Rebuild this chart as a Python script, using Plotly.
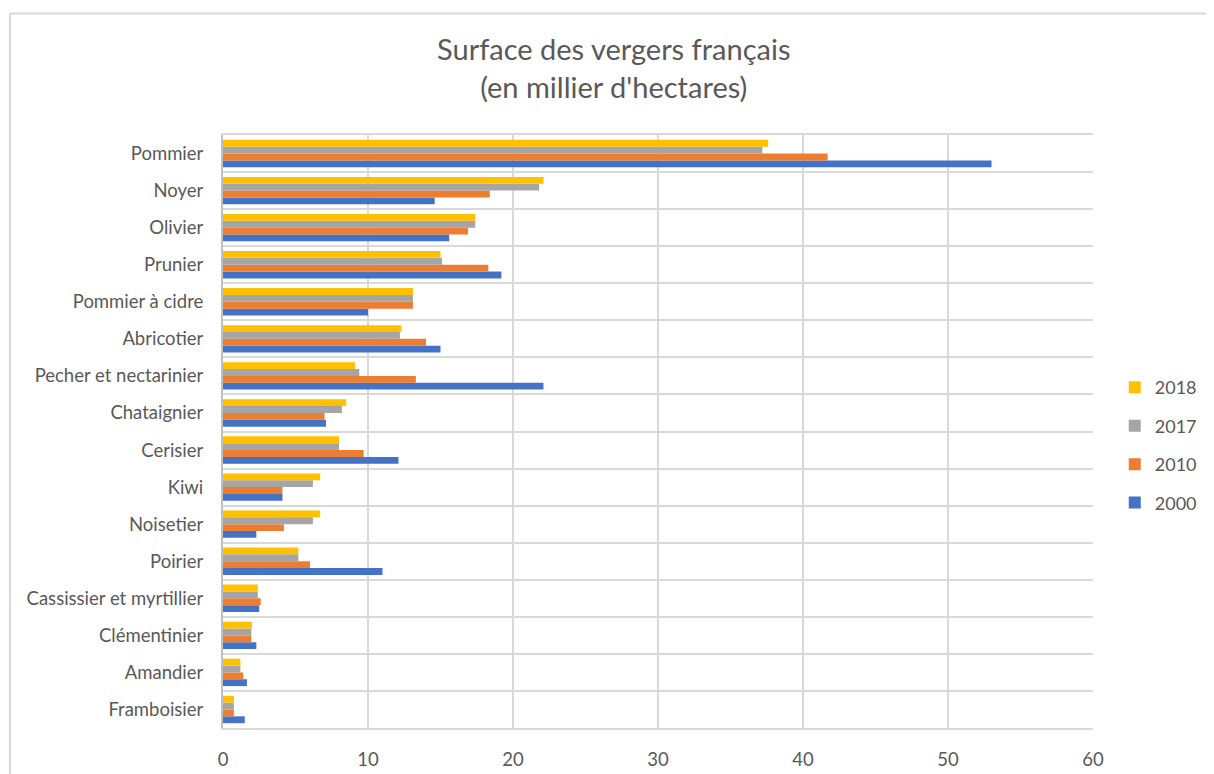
import plotly.graph_objects as go

# Categories listed bottom-to-top (plotly puts the first category at the bottom)
categories = [
    "Framboisier", "Amandier", "Clémentinier", "Cassissier et myrtillier",
    "Poirier", "Noisetier", "Kiwi", "Cerisier", "Chataignier",
    "Pecher et nectarinier", "Abricotier", "Pommier à cidre", "Prunier",
    "Olivier", "Noyer", "Pommier",
]

y2000 = [1.5, 1.65, 2.3, 2.5, 11.0, 2.3, 4.1, 12.1, 7.1, 22.1, 15.0, 10.0, 19.2, 15.6, 14.6, 53.0]
y2010 = [0.75, 1.4, 1.95, 2.6, 6.0, 4.2, 4.1, 9.7, 7.0, 13.3, 14.0, 13.1, 18.3, 16.9, 18.4, 41.7]
y2017 = [0.75, 1.2, 1.95, 2.4, 5.2, 6.2, 6.2, 8.0, 8.2, 9.4, 12.2, 13.1, 15.1, 17.4, 21.8, 37.2]
y2018 = [0.75, 1.2, 2.0, 2.4, 5.2, 6.7, 6.7, 8.0, 8.5, 9.1, 12.3, 13.1, 15.0, 17.4, 22.1, 37.6]

series = [
    ("2000", y2000, "#4472C4"),
    ("2010", y2010, "#ED7D31"),
    ("2017", y2017, "#A5A5A5"),
    ("2018", y2018, "#FFC000"),
]

FONT = "Lato, 'Open Sans', sans-serif"
TEXT = "#595959"
GRID = "#d9d9d9"

fig = go.Figure()
for i, (name, vals, color) in enumerate(series):
    fig.add_trace(go.Bar(
        x=vals, y=categories, name=name, orientation="h",
        marker=dict(color=color, line=dict(width=0)),
        legendgroup=name, legendrank=100 - i,
    ))

# Outer chart border (only left and top edges are visible)
fig.add_shape(type="line", xref="paper", yref="paper",
              x0=-0.2448, x1=-0.2448, y0=1.205, y1=-0.2,
              line=dict(color=GRID, width=2))
fig.add_shape(type="line", xref="paper", yref="paper",
              x0=-0.2448, x1=1.25, y0=1.205, y1=1.205,
              line=dict(color=GRID, width=2))

fig.update_layout(
    width=1214, height=774,
    margin=dict(l=215, r=129, t=127, b=52),
    paper_bgcolor="white", plot_bgcolor="white",
    font=dict(family=FONT, color=TEXT, size=18),
    title=dict(
        text="Surface des vergers français<br>(en millier d'hectares)",
        x=0.499, xanchor="center", y=0.933, yanchor="top",
        font=dict(size=29, color=TEXT, family=FONT),
    ),
    barmode="group", bargap=0.26, bargroupgap=0,
    legend=dict(
        x=1.025, xanchor="left", y=0.477, yanchor="middle",
        traceorder="grouped", tracegroupgap=12,
        font=dict(size=18, color=TEXT),
        itemwidth=30,
    ),
    xaxis=dict(
        range=[0, 60], dtick=10, showgrid=True, gridcolor=GRID, gridwidth=2,
        zeroline=False, showline=True, linecolor=GRID, linewidth=2, mirror=True,
        ticks="", tickfont=dict(size=18.5, color=TEXT), ticklabelstandoff=14,
    ),
    yaxis=dict(
        categoryorder="array", categoryarray=categories,
        tickson="boundaries", showgrid=True, gridcolor=GRID, gridwidth=2,
        showline=True, linecolor="#bfbfbf", linewidth=2, mirror=False,
        ticks="", tickfont=dict(size=18.5, color=TEXT), ticklabelstandoff=14,
    ),
)

fig.write_html("out.html")
